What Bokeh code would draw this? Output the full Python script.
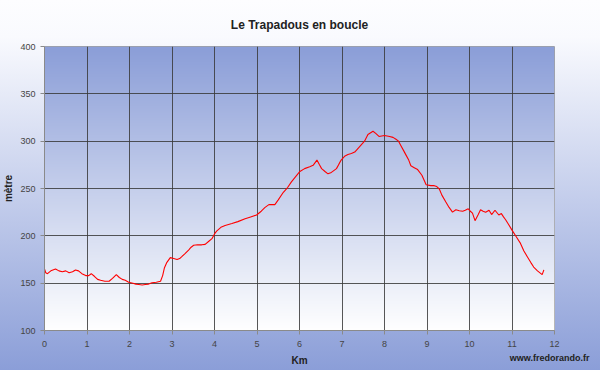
import numpy as np
from bokeh.plotting import figure
from bokeh.models import FixedTicker, Range1d, Title
from bokeh.embed import file_html
from bokeh.resources import INLINE

# Profile data: distance (km) and altitude (m)
km = [0.00, 0.03, 0.07, 0.15, 0.26, 0.34, 0.42, 0.50, 0.58, 0.66, 0.73, 0.80, 0.88, 0.97,
      1.04, 1.10, 1.18, 1.25, 1.32, 1.42, 1.52, 1.60, 1.69, 1.76, 1.83, 1.90, 1.98,
      2.08, 2.15, 2.22, 2.30, 2.37, 2.45, 2.53, 2.63, 2.73, 2.78, 2.82, 2.88, 2.96,
      3.04, 3.12, 3.18, 3.23, 3.30, 3.39, 3.45, 3.51, 3.60, 3.70, 3.78, 3.86, 3.94,
      4.00, 4.05, 4.15, 4.25, 4.41, 4.55, 4.72, 4.85, 4.99,
      5.10, 5.19, 5.28, 5.34, 5.42, 5.50, 5.62, 5.72, 5.81, 5.90,
      6.01, 6.12, 6.24, 6.32, 6.41, 6.47, 6.52, 6.60, 6.67, 6.75, 6.87, 6.93, 6.98,
      7.06, 7.14, 7.22, 7.30, 7.41, 7.53, 7.61, 7.73, 7.80, 7.87,
      8.00, 8.12, 8.20, 8.27, 8.33, 8.39, 8.45, 8.51, 8.57, 8.62, 8.70, 8.78, 8.88, 8.98,
      9.09, 9.17, 9.23, 9.29, 9.35, 9.44, 9.52, 9.60, 9.68, 9.76, 9.84, 9.90, 9.97,
      10.02, 10.07, 10.13, 10.20, 10.26, 10.32, 10.38, 10.46, 10.52, 10.60, 10.69, 10.75,
      10.80, 10.85, 10.92, 11.00, 11.10, 11.20, 11.28, 11.36, 11.44, 11.51, 11.60, 11.71, 11.75]
alt = [165, 161, 160, 163, 165, 163, 162, 163, 161, 162, 164, 163, 160, 158,
       158, 160, 157, 154, 153, 152, 152, 155, 159, 156, 154, 153, 151,
       150, 149, 148.6, 148, 148.6, 149, 150.5, 151, 152, 158, 166, 172, 177,
       176, 175, 176, 178, 181, 185, 188, 190, 190.5, 190.5, 191, 194, 197,
       202, 205, 209, 211, 213, 215, 218, 220, 222,
       226, 230, 233, 233, 233, 238, 246, 251, 257, 262,
       268, 271, 273, 274.5, 280, 275, 271, 268, 265.5, 267, 271, 276, 280,
       284, 286, 287, 288.5, 294, 300, 307, 310.5, 308, 305,
       306, 305, 304, 302, 300, 295, 290, 285, 280, 274, 272, 270, 264, 254,
       253, 253, 252, 249.5, 243, 236, 230, 225, 227.5, 226.5, 226, 227, 228.5,
       226, 224, 216, 222, 227.5, 226, 225, 227, 222.5, 227, 222, 223.5,
       220, 217, 212, 206, 199, 192, 184, 178, 172, 167, 163, 159, 164]

x_ticks = list(range(0, 13))
y_ticks = [100, 150, 200, 250, 300, 350, 400]

title_text = "Le Trapadous en boucle"
x_label = "Km"
y_label = "mètre"
credit = "www.fredorando.fr"

FONT = "Liberation Sans"

p = figure(width=600, height=370,
           x_range=Range1d(x_ticks[0], x_ticks[-1]),
           y_range=Range1d(y_ticks[0], y_ticks[-1]),
           output_backend="svg", toolbar_location=None,
           min_border_left=42, min_border_right=46,
           min_border_top=46, min_border_bottom=40,
           title=title_text)

p.styles = {"background": "linear-gradient(to bottom, #fdfdff 0%, #f9fafe 10%, #8b9ed8 100%)"}
p.border_fill_color = None
p.background_fill_color = None
p.outline_line_color = "#a0a0a0"

# Plot-area gradient (blue at top, white at bottom)
N = 284
img = np.empty((N, 1), dtype=np.uint32)
view = img.view(dtype=np.uint8).reshape((N, 1, 4))
top = np.array([0x8b, 0x9e, 0xd8], dtype=float)
bot = np.array([0xff, 0xff, 0xff], dtype=float)
t = np.linspace(0, 1, N)[:, None]
cols = bot * (1 - t) + top * t
view[:, 0, 0] = cols[:, 0].astype(np.uint8)
view[:, 0, 1] = cols[:, 1].astype(np.uint8)
view[:, 0, 2] = cols[:, 2].astype(np.uint8)
view[:, 0, 3] = 255
p.image_rgba(image=[img], x=x_ticks[0], y=y_ticks[0],
             dw=x_ticks[-1] - x_ticks[0], dh=y_ticks[-1] - y_ticks[0], level="image")

# Profile line
p.line(km, alt, line_color="#ff0000", line_width=1.1)

# Title
p.title.align = "center"
p.title.text_font = FONT
p.title.text_font_size = "12px"
p.title.text_font_style = "bold"
p.title.text_color = "#222222"
p.title.standoff = 30

# Grid
for g in (p.xgrid, p.ygrid):
    g.grid_line_color = "#3a3a3a"
    g.grid_line_alpha = 0.85
    g.grid_line_width = 1
p.xgrid.ticker = FixedTicker(ticks=x_ticks)
p.ygrid.ticker = FixedTicker(ticks=y_ticks)

# Axes
p.xaxis.ticker = FixedTicker(ticks=x_ticks)
p.yaxis.ticker = FixedTicker(ticks=y_ticks)
for ax in (p.xaxis, p.yaxis):
    ax.axis_line_color = "#8a8a8a"
    ax.major_tick_line_color = "#8a8a8a"
    ax.major_tick_out = 4
    ax.major_tick_in = 0
    ax.minor_tick_line_color = None
    ax.major_label_text_font = FONT
    ax.major_label_text_font_size = "9px"
    ax.major_label_text_color = "#444444"
    ax.axis_label_text_font = FONT
    ax.axis_label_text_font_size = "10px"
    ax.axis_label_text_font_style = "bold"
    ax.axis_label_text_color = "#222222"
p.xaxis.axis_label = x_label
p.yaxis.axis_label = y_label
p.xaxis.major_label_standoff = 6
p.xaxis.axis_label_standoff = 5
p.yaxis.major_label_standoff = 5
p.yaxis.axis_label_standoff = 3

# Credit text (a second title below, pulled up beside the axis label)
credit_title = Title(text=credit, align="right", vertical_align="top",
                     offset=-35, standoff=-32,
                     text_font=FONT, text_font_size="9px", text_font_style="bold",
                     text_color="#222222")
p.add_layout(credit_title, "below")

open("out.html", "w").write(file_html(p, INLINE))
